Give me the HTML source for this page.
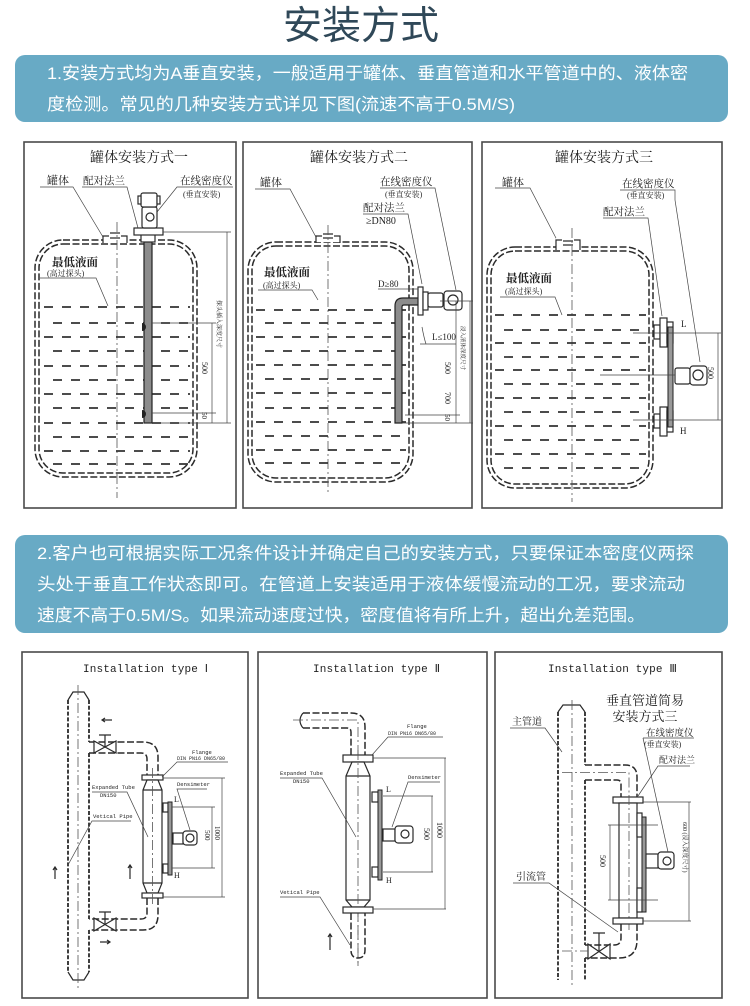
<!DOCTYPE html>
<html><head><meta charset="utf-8">
<style>
html,body{margin:0;padding:0;background:#fff;}
body{width:750px;height:1006px;overflow:hidden;}
svg{display:block;}
.bx{fill:#fff;stroke:#4a4a4a;stroke-width:1.6;}
.s{fill:none;stroke:#2a2a2a;stroke-width:1.2;}
.sf{fill:#fff;stroke:#2a2a2a;stroke-width:1.2;}
.t{fill:none;stroke:#444;stroke-width:0.7;}
.d{fill:none;stroke:#2a2a2a;stroke-width:1.5;stroke-dasharray:7 2.5;}
.dp{fill:none;stroke:#2a2a2a;stroke-width:1.8;stroke-dasharray:4 1.8;}
.cl{fill:none;stroke:#555;stroke-width:0.8;stroke-dasharray:10 3 2 3;}
.lq{stroke:#333;stroke-width:1.7;stroke-dasharray:9 9;}
.lq2{stroke:#333;stroke-width:1.7;stroke-dasharray:9 9;stroke-dashoffset:9;}
.cn{font-family:"Liberation Serif","Noto Serif CJK SC",serif;fill:#1e1e1e;}
.en{font-family:"Liberation Mono","DejaVu Sans Mono",monospace;fill:#1e1e1e;}
.bn{font-family:"Liberation Sans","Noto Sans CJK SC",sans-serif;fill:#fff;font-size:17px;}
</style></head>
<body>
<svg width="750" height="1006" viewBox="0 0 750 1006" xmlns="http://www.w3.org/2000/svg">
<rect width="750" height="1006" fill="#fff"/>

<!-- Title -->
<text x="361" y="39" text-anchor="middle" font-size="39" fill="#2f4858" font-family="Liberation Sans,'Noto Sans CJK SC',sans-serif">安装方式</text>

<!-- Banner 1 -->
<rect x="15" y="55" width="713" height="67" rx="10" fill="#68aac5"/>
<text class="bn" x="47" y="79" textLength="641" lengthAdjust="spacingAndGlyphs">1.安装方式均为A垂直安装，一般适用于罐体、垂直管道和水平管道中的、液体密</text>
<text class="bn" x="47" y="110" textLength="468" lengthAdjust="spacingAndGlyphs">度检测。常见的几种安装方式详见下图(流速不高于0.5M/S)</text>

<!-- Banner 2 -->
<rect x="15" y="535" width="713" height="98" rx="10" fill="#68aac5"/>
<text class="bn" x="37" y="559" textLength="657" lengthAdjust="spacingAndGlyphs">2.客户也可根据实际工况条件设计并确定自己的安装方式，只要保证本密度仪两探</text>
<text class="bn" x="37" y="590" textLength="648" lengthAdjust="spacingAndGlyphs">头处于垂直工作状态即可。在管道上安装适用于液体缓慢流动的工况，要求流动</text>
<text class="bn" x="37" y="621" textLength="608" lengthAdjust="spacingAndGlyphs">速度不高于0.5M/S。如果流动速度过快，密度值将有所上升，超出允差范围。</text>

<!-- ================= BOX 1 ================= -->
<rect class="bx" x="24" y="142" width="212" height="366"/>
<text class="cn" x="139" y="162" font-size="14" text-anchor="middle">罐体安装方式一</text>
<text class="cn" x="47" y="184" font-size="11">罐体</text>
<text class="cn" x="83" y="184" font-size="10.5">配对法兰</text>
<text class="cn" x="180" y="184" font-size="10.5">在线密度仪</text>
<text class="cn" x="183" y="197" font-size="8">(垂直安装)</text>
<path class="t" d="M40 187 L73 187 L103 237 M82 187 L127 187 L138 228 M233 187 L177 187 L157 212"/>
<!-- tank -->
<rect class="d" x="35" y="240" width="162" height="237" rx="28"/>
<rect class="d" x="39" y="244" width="154" height="229" rx="24"/>
<rect x="103" y="233" width="24" height="9" fill="#fff"/>
<path class="s" d="M103 243 L103 236 L109 236 M127 243 L127 236 L121 236 M110 233 L120 233 M110 238 L120 238"/>
<line class="cl" x1="117" y1="222" x2="117" y2="498"/>
<text class="cn" x="52" y="266" font-size="11.5" font-weight="bold">最低液面</text>
<text class="cn" x="47" y="276" font-size="8">(高过探头)</text>
<path class="t" d="M40 278 L96 278 L108 306"/>
<g>
<line class="lq" x1="44" y1="307" x2="190" y2="307"/>
<line class="lq2" x1="44" y1="323" x2="190" y2="323"/>
<line class="lq" x1="44" y1="337" x2="190" y2="337"/>
<line class="lq2" x1="44" y1="351" x2="190" y2="351"/>
<line class="lq" x1="44" y1="366" x2="190" y2="366"/>
<line class="lq2" x1="44" y1="380" x2="190" y2="380"/>
<line class="lq" x1="44" y1="394" x2="190" y2="394"/>
<line class="lq2" x1="44" y1="408" x2="190" y2="408"/>
<line class="lq" x1="44" y1="423" x2="190" y2="423"/>
<line class="lq2" x1="44" y1="437" x2="190" y2="437"/>
<line class="lq" x1="44" y1="451" x2="190" y2="451"/>
<line class="lq2" x1="44" y1="464" x2="190" y2="464"/>
</g>
<!-- instrument -->
<rect x="144" y="240" width="8" height="183" fill="#8c8c8c" stroke="#222" stroke-width="1.2"/>
<rect class="sf" x="141" y="234" width="14" height="8"/>
<rect class="sf" x="134" y="228" width="29" height="7"/>
<rect class="sf" x="142" y="207" width="15" height="21" rx="2"/>
<circle class="s" cx="150" cy="217" r="4"/>
<rect class="sf" x="141" y="193" width="16" height="14" rx="2"/>
<rect class="sf" x="138" y="196" width="3" height="8"/>
<rect class="sf" x="157" y="196" width="3" height="8"/>
<path fill="#222" d="M142 323 a4 4 0 0 1 0 8 Z M142 410 a4 4 0 0 1 0 8 Z"/>
<!-- dims -->
<path class="t" d="M163 232 L231 232 M152 323 L216 323 M152 413 L216 413 M152 423 L231 423 M227 232 L227 423 M212 323 L212 423"/>
<text class="cn" font-size="8" transform="translate(202,362) rotate(90)">500</text>
<text class="cn" font-size="7" transform="translate(202,412) rotate(90)">50</text>
<text class="cn" font-size="6" transform="translate(217,300) rotate(90)">探头插入深度尺寸</text>

<!-- ================= BOX 2 ================= -->
<rect class="bx" x="243" y="142" width="229" height="366"/>
<text class="cn" x="359" y="162" font-size="14" text-anchor="middle">罐体安装方式二</text>
<text class="cn" x="260" y="186" font-size="11">罐体</text>
<path class="t" d="M255 189 L290 189 L317 239"/>
<text class="cn" x="380" y="185" font-size="10.5">在线密度仪</text>
<text class="cn" x="385" y="197" font-size="8">(垂直安装)</text>
<path class="t" d="M380 188 L435 188 L456 290"/>
<text class="cn" x="363" y="211" font-size="10.5">配对法兰</text>
<text class="cn" x="366" y="224" font-size="10">≥DN80</text>
<path class="t" d="M363 214 L408 214 L422 284"/>
<rect class="d" x="248" y="242" width="165" height="240" rx="28"/>
<rect class="d" x="252" y="246" width="157" height="232" rx="24"/>
<rect x="316" y="234" width="24" height="8" fill="#fff"/>
<path class="s" d="M316 243 L316 236 L322 236 M340 243 L340 236 L334 236 M323 234 L333 234 M323 238 L333 238"/>
<line class="cl" x1="328" y1="225" x2="328" y2="495"/>
<text class="cn" x="264" y="276" font-size="11.5" font-weight="bold">最低液面</text>
<text class="cn" x="263" y="288" font-size="8">(高过探头)</text>
<path class="t" d="M258 290 L312 290 L318 300"/>
<g>
<line class="lq" x1="256" y1="310" x2="406" y2="310"/>
<line class="lq2" x1="256" y1="323" x2="406" y2="323"/>
<line class="lq" x1="256" y1="337" x2="406" y2="337"/>
<line class="lq2" x1="256" y1="351" x2="406" y2="351"/>
<line class="lq" x1="256" y1="365" x2="406" y2="365"/>
<line class="lq2" x1="256" y1="379" x2="406" y2="379"/>
<line class="lq" x1="256" y1="393" x2="406" y2="393"/>
<line class="lq2" x1="256" y1="408" x2="406" y2="408"/>
<line class="lq" x1="256" y1="422" x2="406" y2="422"/>
<line class="lq2" x1="256" y1="436" x2="406" y2="436"/>
<line class="lq" x1="256" y1="450" x2="406" y2="450"/>
<line class="lq2" x1="256" y1="463" x2="406" y2="463"/>
</g>
<!-- L pipe -->
<path d="M395 423 L395 306 Q395 298 403 298 L420 298 L420 305 L404 305 Q402 305 402 307 L402 423 Z" fill="#8c8c8c" stroke="#222" stroke-width="1.2"/>
<rect class="sf" x="418" y="287" width="5" height="28"/>
<rect class="sf" x="423" y="292" width="5" height="18"/>
<rect class="sf" x="428" y="293" width="15" height="14" rx="2"/>
<rect class="sf" x="444" y="291" width="18" height="19" rx="3"/>
<circle class="s" cx="453" cy="300" r="5"/>
<text class="cn" x="378" y="287" font-size="9">D≥80</text>
<path class="t" d="M378 289 L418 289 M422 327 Q424 338 426 344 M420 344 L456 344"/>
<text class="cn" x="432" y="340" font-size="9">L≤100</text>
<path class="t" d="M440 301 L473 301 M405 415 L460 415 M402 423 L473 423 M456 301 L456 423 M470 301 L470 423"/>
<text class="cn" font-size="8" transform="translate(445,362) rotate(90)">500</text>
<text class="cn" font-size="8" transform="translate(445,392) rotate(90)">700</text>
<text class="cn" font-size="7" transform="translate(445,414) rotate(90)">50</text>
<text class="cn" font-size="5.5" transform="translate(461,326) rotate(90)">浸入液体深度尺寸</text>

<!-- ================= BOX 3 ================= -->
<rect class="bx" x="482" y="142" width="240" height="366"/>
<text class="cn" x="604" y="162" font-size="14" text-anchor="middle">罐体安装方式三</text>
<text class="cn" x="502" y="186" font-size="11">罐体</text>
<path class="t" d="M495 188 L530 188 L557 240"/>
<text class="cn" x="622" y="187" font-size="10.5">在线密度仪</text>
<text class="cn" x="627" y="198" font-size="8">(垂直安装)</text>
<path class="t" d="M620 190 L675 190 L675 200 L700 362"/>
<text class="cn" x="603" y="215" font-size="10.5">配对法兰</text>
<path class="t" d="M603 218 L648 218 L662 316"/>
<rect class="d" x="487" y="247" width="166" height="241" rx="28"/>
<rect class="d" x="491" y="251" width="158" height="233" rx="24"/>
<rect x="556" y="238" width="24" height="12" fill="#fff"/>
<path class="s" d="M556 250 L556 240 L562 240 M580 250 L580 240 L574 240 M563 241 L573 241 M563 245 L573 245"/>
<line class="cl" x1="572" y1="228" x2="572" y2="502"/>
<text class="cn" x="506" y="282" font-size="11.5" font-weight="bold">最低液面</text>
<text class="cn" x="505" y="294" font-size="8">(高过探头)</text>
<path class="t" d="M500 297 L555 297 L562 315"/>
<g>
<line class="lq" x1="495" y1="315" x2="646" y2="315"/>
<line class="lq2" x1="495" y1="330" x2="646" y2="330"/>
<line class="lq" x1="495" y1="343" x2="646" y2="343"/>
<line class="lq2" x1="495" y1="357" x2="646" y2="357"/>
<line class="lq" x1="495" y1="370" x2="646" y2="370"/>
<line class="lq2" x1="495" y1="384" x2="646" y2="384"/>
<line class="lq" x1="495" y1="398" x2="646" y2="398"/>
<line class="lq2" x1="495" y1="412" x2="646" y2="412"/>
<line class="lq" x1="495" y1="426" x2="646" y2="426"/>
<line class="lq2" x1="495" y1="440" x2="646" y2="440"/>
<line class="lq" x1="495" y1="454" x2="646" y2="454"/>
<line class="lq2" x1="495" y1="468" x2="646" y2="468"/>
</g>
<rect class="sf" x="654" y="325" width="6" height="14"/>
<rect class="sf" x="660" y="318" width="7" height="29"/>
<rect class="sf" x="667" y="322" width="6" height="21"/>
<rect class="sf" x="654" y="414" width="6" height="14"/>
<rect class="sf" x="660" y="407" width="7" height="29"/>
<rect class="sf" x="667" y="411" width="6" height="21"/>
<rect x="668" y="327" width="5" height="100" fill="#999" stroke="#222" stroke-width="1"/>
<rect class="sf" x="675" y="368" width="15" height="16" rx="2"/>
<rect class="sf" x="690" y="366" width="17" height="19" rx="3"/>
<circle class="s" cx="698" cy="375" r="5"/>
<text class="cn" x="681" y="327" font-size="9">L</text>
<text class="cn" x="680" y="434" font-size="9">H</text>
<path class="t" d="M633 333 L721 333 M633 420 L721 420 M718 333 L718 420 M600 375 L675 375"/>
<text class="cn" font-size="8" transform="translate(708,367) rotate(90)">500</text>

<!-- ================= BOX 4 ================= -->
<rect class="bx" x="22" y="652" width="226" height="346"/>
<text class="en" x="83" y="672" font-size="11" textLength="125">Installation type Ⅰ</text>
<!-- main pipe -->
<path class="dp" d="M68 700 L68 972"/>
<path class="dp" d="M89 700 L89 742 M89 753 L89 919 M89 930 L89 972"/>
<path class="s" d="M68 700 L73 692 L84 692 L89 700 M68 972 L73 980 L84 980 L89 972"/>
<line class="cl" x1="78" y1="685" x2="78" y2="988"/>
<!-- upper branch -->
<path class="d" d="M89 742 L143 742 Q158 742 158 757 L158 775"/>
<path class="d" d="M89 753 L141 753 Q147 753 147 759 L147 775"/>
<path class="sf" d="M94 741 L116 753 L116 741 L94 753 Z"/>
<path class="s" d="M105 747 L105 735 M99 735 L111 735"/>
<!-- tube -->
<rect class="sf" x="142" y="775" width="21" height="5"/>
<path class="sf" d="M147 780 L143 790 L143 883 L147 893 L158 893 L162 883 L162 790 L158 780 Z"/>
<path class="s" d="M143 790 L162 790 M143 883 L162 883"/>
<rect class="sf" x="142" y="893" width="21" height="5"/>
<line class="cl" x1="152.5" y1="768" x2="152.5" y2="905"/>
<!-- lower branch -->
<path class="d" d="M158 898 L158 915 Q158 930 143 930 L89 930"/>
<path class="d" d="M147 898 L147 913 Q147 919 141 919 L89 919"/>
<path class="sf" d="M94 918 L116 931 L116 918 L94 931 Z"/>
<path class="s" d="M105 924 L105 912 M99 912 L111 912"/>
<!-- gauge -->
<rect class="sf" x="163" y="803" width="5" height="9"/>
<rect class="sf" x="163" y="864" width="5" height="9"/>
<rect x="168" y="802" width="4" height="73" fill="#999" stroke="#222" stroke-width="1"/>
<rect class="sf" x="173" y="833" width="10" height="11"/>
<rect class="sf" x="183" y="831" width="14" height="14" rx="3"/>
<circle class="s" cx="190" cy="838" r="4"/>
<text class="cn" x="174" y="802" font-size="8">L</text>
<text class="cn" x="174" y="878" font-size="8">H</text>
<path class="t" d="M163 778 L225 778 M172 807 L215 807 M172 868 L215 868 M163 897 L225 897 M212 807 L212 868 M222 778 L222 897"/>
<text class="cn" font-size="7" transform="translate(205,830) rotate(90)">500</text>
<text class="cn" font-size="7" transform="translate(215,826) rotate(90)">1000</text>
<!-- labels -->
<text class="en" x="192" y="754" font-size="5.5">Flange</text>
<text class="en" x="177" y="760" font-size="5">DIN PN16 DN65/80</text>
<path class="t" d="M228 762 L177 762 L162 777"/>
<text class="en" x="92" y="789" font-size="5.5">Expanded Tube</text>
<text class="en" x="100" y="797" font-size="5.5">DN150</text>
<path class="t" d="M92 792 L127 792 L148 837"/>
<text class="en" x="177" y="786" font-size="5.5">Densimeter</text>
<path class="t" d="M207 789 L177 789 L190 830"/>
<text class="en" x="93" y="818" font-size="5.5">Vetical Pipe</text>
<path class="t" d="M131 821 L92 821 L68 865"/>
<path class="s" d="M112 720 L102 720 M105 718 L102 720 L105 722"/>
<path class="s" d="M100 942 L110 942 M107 940 L110 942 L107 944"/>
<path class="s" d="M55 879 L55 867 M53 870 L55 867 L57 870"/>
<path class="s" d="M130 879 L130 865 M128 868 L130 865 L132 868"/>

<!-- ================= BOX 5 ================= -->
<rect class="bx" x="258" y="652" width="229" height="346"/>
<text class="en" x="313" y="672" font-size="11" textLength="127">Installation type Ⅱ</text>
<path class="d" d="M303 713 L351 713 Q365 713 365 727 L365 755"/>
<path class="d" d="M303 728 L347 728 Q351 728 351 732 L351 755"/>
<path class="s" d="M303 713 Q297 720.5 303 728"/>
<path class="cl" d="M293 720 L358 720 L358 966"/>
<rect class="sf" x="343" y="755" width="30" height="7"/>
<path class="sf" d="M352 762 L346 776 L346 900 L352 907 L364 907 L370 900 L370 776 L364 762 Z"/>
<path class="s" d="M346 776 L370 776 M346 900 L370 900"/>
<line class="cl" x1="358" y1="750" x2="358" y2="966"/>
<rect class="sf" x="343" y="907" width="30" height="6"/>
<path class="d" d="M351 913 L351 950 Q351 958 358 958 Q365 958 365 950 L365 913"/>
<rect class="sf" x="372" y="792" width="6" height="10"/>
<rect class="sf" x="372" y="867" width="6" height="10"/>
<rect x="378" y="790" width="4" height="90" fill="#999" stroke="#222" stroke-width="1"/>
<rect class="sf" x="383" y="829" width="12" height="12"/>
<rect class="sf" x="395" y="826" width="18" height="17" rx="3"/>
<circle class="s" cx="405" cy="834" r="4"/>
<text class="cn" x="386" y="792" font-size="8">L</text>
<text class="cn" x="386" y="883" font-size="8">H</text>
<path class="t" d="M373 758 L446 758 M383 796 L433 796 M383 872 L433 872 M373 909 L446 909 M432 796 L432 872 M445 758 L445 909"/>
<text class="cn" font-size="8" transform="translate(424,828) rotate(90)">500</text>
<text class="cn" font-size="8" transform="translate(437,822) rotate(90)">1000</text>
<text class="en" x="407" y="728" font-size="5.5">Flange</text>
<text class="en" x="388" y="735" font-size="5">DIN PN16 DN65/80</text>
<path class="t" d="M443 737 L388 737 L372 755"/>
<text class="en" x="280" y="775" font-size="5.5">Expanded Tube</text>
<text class="en" x="293" y="783" font-size="5.5">DN150</text>
<path class="t" d="M280 778 L322 778 L356 837"/>
<text class="en" x="408" y="779" font-size="5.5">Densimeter</text>
<path class="t" d="M440 782 L408 782 L392 827"/>
<text class="en" x="280" y="894" font-size="5.5">Vetical Pipe</text>
<path class="t" d="M280 897 L320 897 L350 945"/>
<path class="s" d="M330 950 L330 934 M328 937 L330 934 L332 937"/>

<!-- ================= BOX 6 ================= -->
<rect class="bx" x="495" y="652" width="227" height="346"/>
<text class="en" x="548" y="672" font-size="11" textLength="129">Installation type Ⅲ</text>
<text class="cn" x="645" y="705" font-size="13" text-anchor="middle">垂直管道简易</text>
<text class="cn" x="645" y="721" font-size="13" text-anchor="middle">安装方式三</text>
<path class="dp" d="M558 712 L558 980"/>
<path class="dp" d="M585 712 L585 765 M585 780 L585 945 M585 958 L585 980"/>
<path class="s" d="M558 712 L563 705 L580 705 L585 712"/>
<line class="cl" x1="572" y1="700" x2="572" y2="985"/>
<text class="cn" x="512" y="725" font-size="10">主管道</text>
<path class="t" d="M510 728 L545 728 L562 752"/>
<path class="d" d="M585 765 L625 765 Q637 765 637 777 L637 797"/>
<path class="d" d="M585 780 L617 780 Q621 780 621 784 L621 797"/>
<path class="cl" d="M562 772.5 L629 772.5 L629 800"/>
<rect class="sf" x="613" y="797" width="30" height="6"/>
<rect class="sf" x="619" y="803" width="18" height="115"/>
<line class="cl" x1="629" y1="795" x2="629" y2="930"/>
<rect class="sf" x="613" y="918" width="30" height="6"/>
<path class="d" d="M637 924 L637 940 Q637 958 619 958 L585 958"/>
<path class="d" d="M621 924 L621 938 Q621 945 614 945 L585 945"/>
<path class="sf" d="M588 944 L610 959 L610 944 L588 959 Z"/>
<path class="s" d="M599 951 L599 933 M593 933 L605 933"/>
<line class="cl" x1="562" y1="951" x2="588" y2="951"/>
<rect class="sf" x="637" y="813" width="5" height="24"/>
<rect class="sf" x="637" y="888" width="5" height="24"/>
<rect x="642" y="817" width="4" height="95" fill="#999" stroke="#222" stroke-width="1"/>
<rect class="sf" x="646" y="854" width="12" height="14"/>
<rect class="sf" x="658" y="852" width="16" height="17" rx="3"/>
<circle class="s" cx="667" cy="861" r="4"/>
<path class="t" d="M643 802 L691 802 M643 921 L691 921 M608 825 L658 825 M608 900 L658 900 M610 825 L610 900 M689 802 L689 921"/>
<text class="cn" font-size="8" transform="translate(600,855) rotate(90)">500</text>
<text class="cn" font-size="6" transform="translate(683,822) rotate(90)">600 (浸入深度尺寸)</text>
<text class="cn" x="646" y="736" font-size="9.5">在线密度仪</text>
<text class="cn" x="644" y="747" font-size="8">(垂直安装)</text>
<path class="t" d="M643 738 L694 738 M643 738 L668 852"/>
<text class="cn" x="659" y="763" font-size="9">配对法兰</text>
<path class="t" d="M690 766 L658 766 L638 796"/>
<text class="cn" x="516" y="880" font-size="10">引流管</text>
<path class="t" d="M513 883 L549 883 L618 932"/>
</svg>
</body></html>
